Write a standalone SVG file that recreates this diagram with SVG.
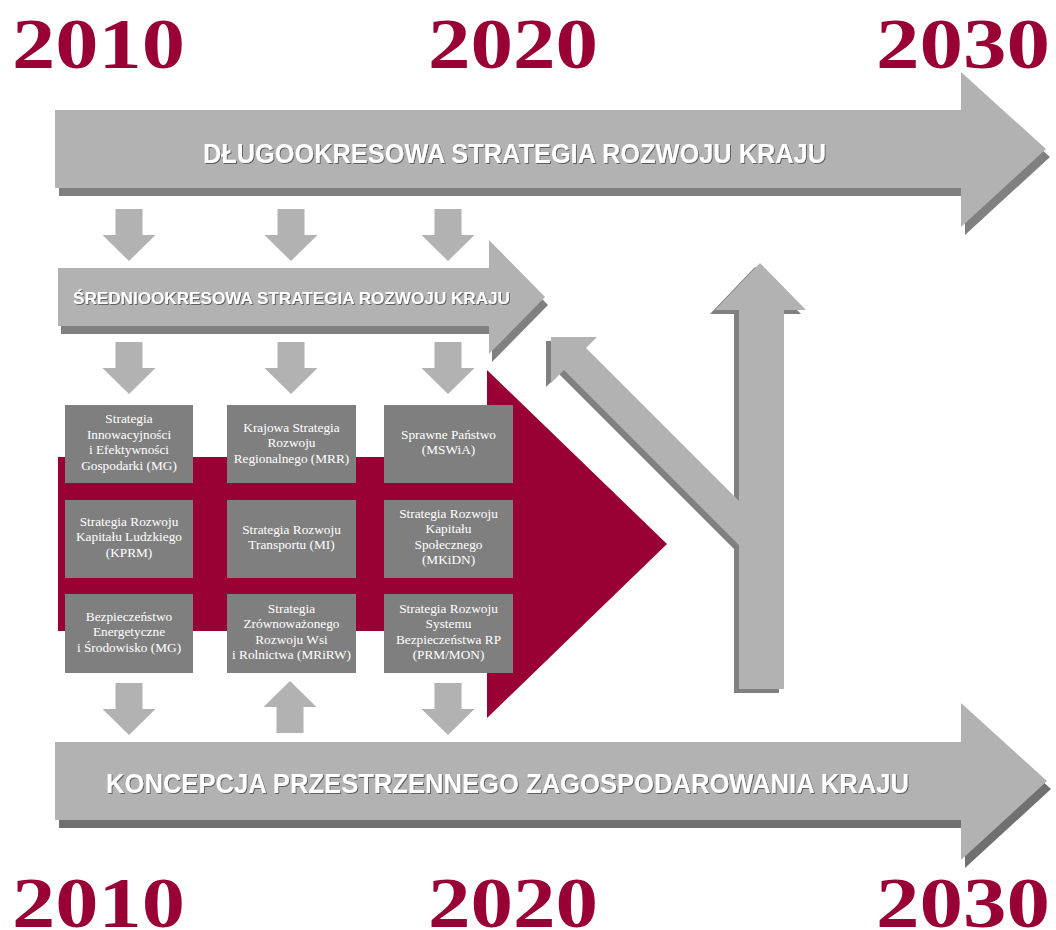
<svg xmlns="http://www.w3.org/2000/svg" width="1056" height="930" viewBox="0 0 1056 930">
<defs>
<style>
.year{font-family:"Liberation Serif","DejaVu Serif",serif;font-weight:bold;font-size:72px;fill:#990033}
.light{fill:#b2b2b2}
.shadow{fill:#808080}
.shadow2{fill:#707070}
.title{font-family:"Liberation Sans","DejaVu Sans",sans-serif;font-weight:bold;fill:#ffffff;text-anchor:middle}
.box{fill:#7f7f7f}
.bt{font-family:"Liberation Serif","DejaVu Serif",serif;font-size:13.3px;fill:#ffffff;text-anchor:middle}
</style>
<filter id="ts" x="-5%" y="-30%" width="110%" height="160%">
<feDropShadow dx="1" dy="1" stdDeviation="0.6" flood-color="#555555" flood-opacity="0.9"/>
</filter>
<path id="down" d="M-13.5,0 h27 v26 h13 L0,52 L-26.5,26 h13 z"/>
<path id="up" d="M-13.5,52 h27 v-26 h13 L0,0 L-26.5,26 h13 z"/>
</defs>
<rect width="1056" height="930" fill="#ffffff"/>

<g id="years">
<text class="year" x="12" y="68" textLength="173" lengthAdjust="spacingAndGlyphs">2010</text>
<text class="year" x="428" y="68" textLength="170" lengthAdjust="spacingAndGlyphs">2020</text>
<text class="year" x="876" y="68" textLength="174" lengthAdjust="spacingAndGlyphs">2030</text>
<text class="year" x="12" y="927" textLength="173" lengthAdjust="spacingAndGlyphs">2010</text>
<text class="year" x="428" y="927" textLength="170" lengthAdjust="spacingAndGlyphs">2020</text>
<text class="year" x="876" y="927" textLength="174" lengthAdjust="spacingAndGlyphs">2030</text>
</g>

<g id="long-term">
<polygon class="shadow" transform="translate(4,8)" points="55,110 961,110 961,72 1046,149 961,227 961,188 55,188"/>
<polygon class="light" points="55,110 961,110 961,72 1046,149 961,227 961,188 55,188"/>
<text class="title" x="514.5" y="163" font-size="27" textLength="623" lengthAdjust="spacingAndGlyphs" filter="url(#ts)">DŁUGOOKRESOWA STRATEGIA ROZWOJU KRAJU</text>
</g>

<g id="mid-term">
<polygon class="shadow" transform="translate(3,8)" points="58,268 489,268 489,240 545,297 489,354 489,326 58,326"/>
<polygon class="light" points="58,268 489,268 489,240 545,297 489,354 489,326 58,326"/>
<text class="title" x="291.5" y="304" font-size="17" textLength="437" lengthAdjust="spacingAndGlyphs" filter="url(#ts)">ŚREDNIOOKRESOWA STRATEGIA ROZWOJU KRAJU</text>
</g>

<g id="strategies-arrow">
<polygon fill="#990033" points="58,457 487,457 487,370 667,544 487,718 487,631 58,631"/>
</g>

<g id="box-1">
<rect class="box" x="65" y="405" width="128" height="78"/>
<text class="bt" x="129" y="423">Strategia<tspan x="129" dy="15.5">Innowacyjności</tspan><tspan x="129" dy="15.5">i Efektywności</tspan><tspan x="129" dy="15.5">Gospodarki (MG)</tspan></text>
</g>
<g id="box-2">
<rect class="box" x="227" y="405" width="129" height="78"/>
<text class="bt" x="291.5" y="432">Krajowa Strategia<tspan x="291.5" dy="15.3">Rozwoju</tspan><tspan x="291.5" dy="15.3">Regionalnego (MRR)</tspan></text>
</g>
<g id="box-3">
<rect class="box" x="384" y="405" width="129" height="78"/>
<text class="bt" x="448.5" y="439">Sprawne Państwo<tspan x="448.5" dy="15.3">(MSWiA)</tspan></text>
</g>
<g id="box-4">
<rect class="box" x="65" y="500" width="128" height="78"/>
<text class="bt" x="129" y="526">Strategia Rozwoju<tspan x="129" dy="15.3">Kapitału Ludzkiego</tspan><tspan x="129" dy="15.3">(KPRM)</tspan></text>
</g>
<g id="box-5">
<rect class="box" x="227" y="500" width="129" height="78"/>
<text class="bt" x="291.5" y="534">Strategia Rozwoju<tspan x="291.5" dy="15.3">Transportu (MI)</tspan></text>
</g>
<g id="box-6">
<rect class="box" x="384" y="500" width="129" height="78"/>
<text class="bt" x="448.5" y="518">Strategia Rozwoju<tspan x="448.5" dy="15.3">Kapitału</tspan><tspan x="448.5" dy="15.3">Społecznego</tspan><tspan x="448.5" dy="15.3">(MKiDN)</tspan></text>
</g>
<g id="box-7">
<rect class="box" x="65" y="594" width="128" height="79"/>
<text class="bt" x="129" y="621">Bezpieczeństwo<tspan x="129" dy="15.3">Energetyczne</tspan><tspan x="129" dy="15.3">i Środowisko (MG)</tspan></text>
</g>
<g id="box-8">
<rect class="box" x="227" y="594" width="129" height="79"/>
<text class="bt" x="291.5" y="613">Strategia<tspan x="291.5" dy="15.3">Zrównoważonego</tspan><tspan x="291.5" dy="15.3">Rozwoju Wsi</tspan><tspan x="291.5" dy="15.3">i Rolnictwa (MRiRW)</tspan></text>
</g>
<g id="box-9">
<rect class="box" x="384" y="594" width="129" height="79"/>
<text class="bt" x="448.5" y="613">Strategia Rozwoju<tspan x="448.5" dy="15.3">Systemu</tspan><tspan x="448.5" dy="15.3">Bezpieczeństwa RP</tspan><tspan x="448.5" dy="15.3">(PRM/MON)</tspan></text>
</g>

<g id="spatial">
<polygon class="shadow2" transform="translate(4,8)" points="55,742 961,742 961,703 1047,781 961,860 961,820 55,820"/>
<polygon class="light" points="55,742 961,742 961,703 1047,781 961,860 961,820 55,820"/>
<text class="title" x="507.5" y="793" font-size="27" textLength="803" lengthAdjust="spacingAndGlyphs" filter="url(#ts)">KONCEPCJA PRZESTRZENNEGO ZAGOSPODAROWANIA KRAJU</text>
</g>

<g id="y-arrow">
<polygon class="shadow" transform="translate(-5,4)" points="739,689 784,689 784,310 806,310 760,263 715,310 739,310 739,501 586,348 597,337 551,337 551,383 564,370 739,545"/>
<polygon class="light" points="739,689 784,689 784,310 806,310 760,263 715,310 739,310 739,501 586,348 597,337 551,337 551,383 564,370 739,545"/>
</g>

<g id="connectors" class="light">
<use href="#down" x="129" y="209"/>
<use href="#down" x="291" y="209"/>
<use href="#down" x="448" y="209"/>
<use href="#down" x="129" y="342"/>
<use href="#down" x="291" y="342"/>
<use href="#down" x="448" y="342"/>
<use href="#down" x="129" y="683"/>
<use href="#up" x="290" y="681"/>
<use href="#down" x="448" y="683"/>
</g>
</svg>
